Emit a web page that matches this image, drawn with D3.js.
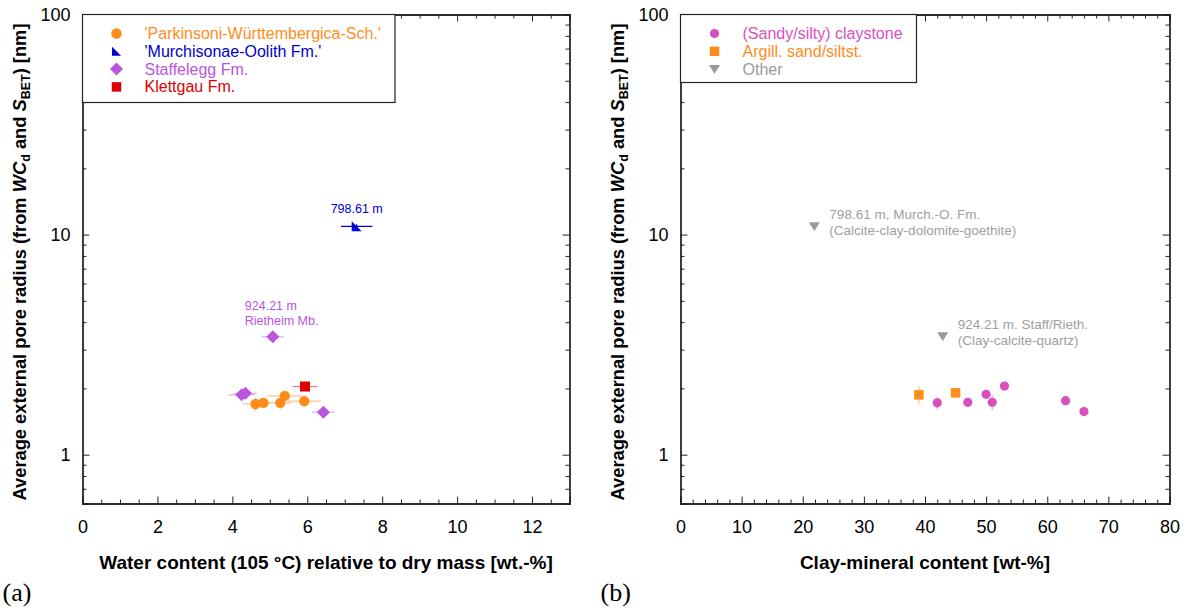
<!DOCTYPE html>
<html>
<head>
<meta charset="utf-8">
<script src="https://cdn.jsdelivr.net/npm/d3@7"></script>
<style>
  body { margin: 0; background: #fff; }
  svg text { font-family: "Liberation Sans", Arial, sans-serif; }
  .tick text { font-size: 18px; fill: #000; }
  .axis path, .axis line { stroke: #222; }
  .title { font-size: 19px; font-weight: bold; }
  .ytitle { font-size: 18.3px; font-weight: bold; }
  .legend text { font-size: 16px; }
  .note { font-size: 12.5px; }
  .noteb { font-size: 13.5px; }
  .plabel { font-family: "Liberation Serif", "Times New Roman", serif !important; font-size: 26px; }
</style>
</head>
<body>
<div id="chart"></div>
<script>
const WIDTH = 1189, HEIGHT = 610;

// ---- data: panel (a), x = water content [wt.-%], y = pore radius [nm]
const parkX    = [4.62, 4.83, 5.28, 5.40, 5.92];
const parkY    = [1.70, 1.72, 1.72, 1.85, 1.75];
const parkXErr = [0.35, 0.30, 0.30, 0.45, 0.45];
const parkYErr = [0.12, 0.08, 0.12, 0.10, 0.10];

const murchX    = [7.32];
const murchY    = [10.9];
const murchXErr = [0.42];
const murchYErr = [0.25];

const staffX    = [5.08, 4.25, 4.35, 6.43];
const staffY    = [3.43, 1.87, 1.90, 1.56];
const staffXErr = [0.30, 0.35, 0.30, 0.30];
const staffYErr = [0.10, 0.10, 0.08, 0.05];

const klettX    = [5.94];
const klettY    = [2.04];
const klettXErr = [0.33];
const klettYErr = [0.07];

// ---- data: panel (b), x = clay-mineral content [wt-%]
const clayX    = [42, 47, 50, 51, 53, 63, 66];
const clayY    = [1.72, 1.73, 1.88, 1.73, 2.05, 1.76, 1.57];
const clayYErr = [0.12, 0.07, 0.07, 0.14, 0.07, 0.07, 0.07];

const argX    = [39, 45];
const argY    = [1.87, 1.91];
const argYErr = [0.18, 0.08];

const otherX = [21.9, 42.9];
const otherY = [10.9, 3.45];

const legendA = ["'Parkinsoni-Württembergica-Sch.'", "'Murchisonae-Oolith Fm.'", "Staffelegg Fm.", "Klettgau Fm."];
const legendB = ["(Sandy/silty) claystone", "Argill. sand/siltst.", "Other"];

const xTicksA = [0, 2, 4, 6, 8, 10, 12];
const xTicksB = [0, 10, 20, 30, 40, 50, 60, 70, 80];
const yTicks  = [1, 10, 100];

const C = {
  orange: "#ff8c1a", orangeErr: "#ffc58a",
  blue: "#0000cc", purple: "#bb55dd", purpleErr: "#dcaaf0",
  red: "#dd0000", redErr: "#ee7777",
  pink: "#d94fbf", pinkErr: "#eeaadd", grey: "#9a9a9a"
};

const svg = d3.select("#chart").append("svg")
  .attr("width", WIDTH).attr("height", HEIGHT);

const TOP = 14.5, BOTTOM = 503.5;
const y = d3.scaleLog().domain([0.6, 100]).range([BOTTOM, TOP]);
const yMinor = [];
[0.1, 1, 10].forEach(d => { for (let k = 2; k <= 9; k++) { const v = k * d; if (v >= 0.6 && v <= 100) yMinor.push(v); } });

// marker shapes
const shapes = {
  circle: r => d3.symbol(d3.symbolCircle, Math.PI * r * r)(),
  square: s => `M${-s/2},${-s/2}h${s}v${s}h${-s}Z`,
  diamond: s => `M0,${-s}L${s},0L0,${s}L${-s},0Z`,
  rtri: s => `M${-s},${-s}L${-s},${s}L${s},${s}Z`,
  tdown: s => `M${-s},${-s*0.75}L${s},${-s*0.75}L0,${s*0.85}Z`
};

function panel(x0, x1, xDomain, xTicks, xMinorStep, xTitle, letter) {
  const x = d3.scaleLinear().domain(xDomain).range([x0, x1]);
  const g = svg.append("g");
  const xMinor = d3.range(xDomain[0], xDomain[1] + 1e-9, xMinorStep).filter(v => !xTicks.includes(v));

  const ax = (axis, tr) => g.append("g").attr("class", "axis").attr("transform", tr).call(axis);
  ax(d3.axisBottom(x).tickValues(xTicks).tickSize(-7).tickPadding(17).tickFormat(d3.format("d")), `translate(0,${BOTTOM})`);
  ax(d3.axisBottom(x).tickValues(xMinor).tickSize(-4).tickFormat(""), `translate(0,${BOTTOM})`);
  ax(d3.axisTop(x).tickValues(xTicks).tickSize(-7).tickFormat(""), `translate(0,${TOP})`);
  ax(d3.axisTop(x).tickValues(xMinor).tickSize(-4).tickFormat(""), `translate(0,${TOP})`);
  ax(d3.axisLeft(y).tickValues(yTicks).tickSize(-7).tickPadding(12).tickFormat(d3.format("d")), `translate(${x0},0)`);
  ax(d3.axisLeft(y).tickValues(yMinor).tickSize(-4).tickFormat(""), `translate(${x0},0)`);
  ax(d3.axisRight(y).tickValues(yTicks).tickSize(-7).tickFormat(""), `translate(${x1},0)`);
  ax(d3.axisRight(y).tickValues(yMinor).tickSize(-4).tickFormat(""), `translate(${x1},0)`);
  g.selectAll(".axis path").attr("stroke-width", 1.3);

  svg.append("text").attr("class", "title")
    .attr("x", (x0 + x1) / 2).attr("y", 569).attr("text-anchor", "middle").text(xTitle);

  const yt = svg.append("text").attr("class", "ytitle")
    .attr("transform", `translate(${x0 - 57},${262}) rotate(-90)`)
    .attr("text-anchor", "middle");
  yt.append("tspan").text("Average external pore radius (from ");
  yt.append("tspan").attr("font-style", "italic").text("WC");
  yt.append("tspan").attr("font-size", 12.5).attr("dy", 4).text("d");
  yt.append("tspan").attr("dy", -4).text(" and ");
  yt.append("tspan").attr("font-style", "italic").text("S");
  yt.append("tspan").attr("font-size", 12.5).attr("dy", 4).text("BET");
  yt.append("tspan").attr("dy", -4).text(") [nm]");

  svg.append("text").attr("class", "plabel")
    .attr("x", x0 - 80).attr("y", 601).text(letter);

  return { x, g };
}

function series(p, xs, ys, xe, ye, shape, size, fill, errColor) {
  const data = xs.map((v, i) => ({ x: v, y: ys[i], xe: xe ? xe[i] : 0, ye: ye ? ye[i] : 0 }));
  const e = p.g.append("g").attr("stroke", errColor).attr("stroke-width", 1.2);
  e.selectAll(".xe").data(data.filter(d => d.xe)).join("line")
    .attr("x1", d => p.x(d.x - d.xe)).attr("x2", d => p.x(d.x + d.xe))
    .attr("y1", d => y(d.y)).attr("y2", d => y(d.y));
  e.selectAll(".ye").data(data.filter(d => d.ye)).join("line")
    .attr("x1", d => p.x(d.x)).attr("x2", d => p.x(d.x))
    .attr("y1", d => y(d.y - d.ye)).attr("y2", d => y(d.y + d.ye));
  p.g.append("g").selectAll("path").data(data).join("path")
    .attr("transform", d => `translate(${p.x(d.x)},${y(d.y)})`)
    .attr("d", shapes[shape](size)).attr("fill", fill);
}

function legend(p, x0, w, h, items) {
  const lg = p.g.append("g").attr("class", "legend");
  lg.append("rect").attr("x", x0).attr("y", TOP).attr("width", w).attr("height", h)
    .attr("fill", "#fff").attr("stroke", "#222").attr("stroke-width", 1.2);
  const rows = lg.selectAll("g").data(items).join("g")
    .attr("transform", (d, i) => `translate(${x0}, ${TOP + 19 + i * 17.8})`);
  rows.append("path").attr("transform", "translate(34,0)")
    .attr("d", d => shapes[d.shape](d.size)).attr("fill", d => d.color);
  rows.append("text").attr("x", 62).attr("y", 5.5).attr("fill", d => d.color).text(d => d.label);
}

// ---- panel (a)
const A = panel(82.5, 569.5, [0, 13], xTicksA, 0.5, "Water content (105 °C) relative to dry mass [wt.-%]", "(a)");
series(A, parkX, parkY, parkXErr, parkYErr, "circle", 5.2, C.orange, C.orangeErr);
series(A, murchX, murchY, murchXErr, murchYErr, "rtri", 5, C.blue, C.blue);
series(A, staffX, staffY, staffXErr, staffYErr, "diamond", 6.5, C.purple, C.purpleErr);
series(A, klettX, klettY, klettXErr, klettYErr, "square", 10, C.red, C.redErr);

A.g.append("text").attr("class", "note").attr("fill", C.blue).attr("text-anchor", "middle")
  .attr("x", A.x(murchX[0])).attr("y", y(murchY[0]) - 13).text("798.61 m");
A.g.append("text").attr("class", "note").attr("fill", C.purple)
  .attr("x", A.x(staffX[0]) - 28).attr("y", y(staffY[0]) - 27)
  .selectAll("tspan").data(["924.21 m", "Rietheim Mb."]).join("tspan")
  .attr("x", A.x(staffX[0]) - 28).attr("dy", (d, i) => i ? 15 : 0).text(d => d);

legend(A, 82.5, 312.5, 88, [
  { label: legendA[0], shape: "circle", size: 5.2, color: C.orange },
  { label: legendA[1], shape: "rtri", size: 4.5, color: C.blue },
  { label: legendA[2], shape: "diamond", size: 6.5, color: C.purple },
  { label: legendA[3], shape: "square", size: 9.5, color: C.red }
]);

// ---- panel (b)
const B = panel(680.5, 1169.5, [0, 80], xTicksB, 2, "Clay-mineral content [wt-%]", "(b)");
series(B, clayX, clayY, null, clayYErr, "circle", 4.6, C.pink, C.pinkErr);
series(B, argX, argY, null, argYErr, "square", 9.5, C.orange, C.orangeErr);
series(B, otherX, otherY, null, null, "tdown", 5.5, C.grey, C.grey);

const notesB = [
  ["798.61 m, Murch.-O. Fm.", "(Calcite-clay-dolomite-goethite)"],
  ["924.21 m. Staff/Rieth.", "(Clay-calcite-quartz)"]
];
notesB.forEach((lines, k) => {
  B.g.append("text").attr("class", "noteb").attr("fill", "#a0a0a0")
    .attr("y", y(otherY[k]) - 7)
    .selectAll("tspan").data(lines).join("tspan")
    .attr("x", B.x(otherX[k]) + 15).attr("dy", (d, i) => i ? 16 : 0).text(d => d);
});

legend(B, 680.5, 236, 68, [
  { label: legendB[0], shape: "circle", size: 4.6, color: C.pink },
  { label: legendB[1], shape: "square", size: 9.5, color: C.orange },
  { label: legendB[2], shape: "tdown", size: 5.5, color: C.grey }
]);
</script>
</body>
</html>
